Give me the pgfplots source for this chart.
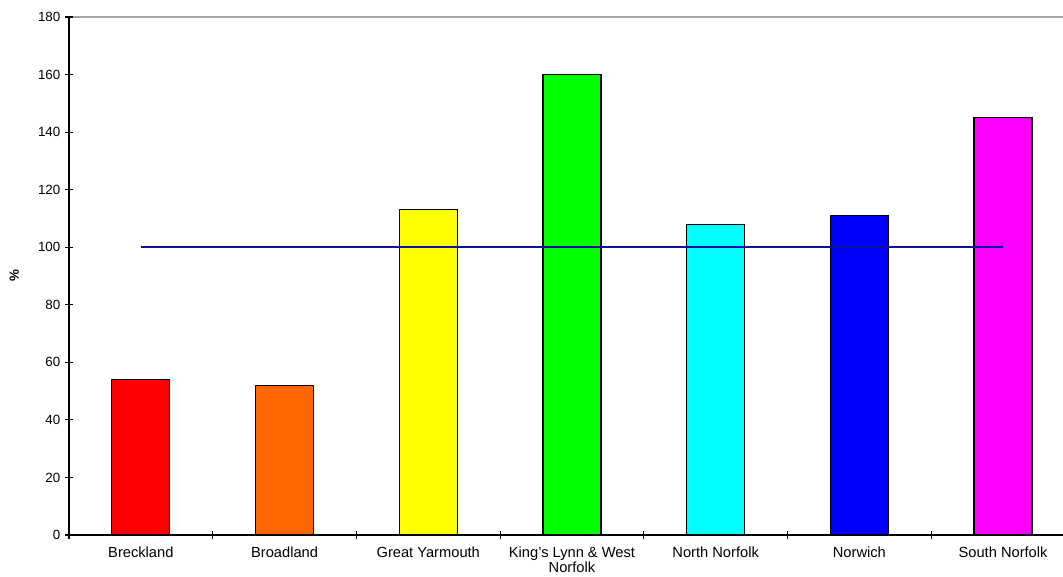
\documentclass[border=0pt]{standalone}
\usepackage{pgfplots}
\pgfplotsset{compat=1.18}
\usepackage{fontspec}
\setmainfont{Liberation Sans}
\definecolor{c1}{HTML}{FF0000}
\definecolor{c2}{HTML}{FF6600}
\definecolor{c3}{HTML}{FFFF00}
\definecolor{c4}{HTML}{00FF00}
\definecolor{c5}{HTML}{00FFFF}
\definecolor{c6}{HTML}{0000FF}
\definecolor{c7}{HTML}{FF00FF}
\definecolor{refline}{HTML}{1010A0}
\begin{document}
\begin{tikzpicture}[x=1pt,y=1pt]
\useasboundingbox (-51.75pt,-31.5pt) rectangle (745.5pt,401.25pt);
\begin{axis}[
  name=ax,
  at={(0pt,0pt)}, anchor=south west,
  scale only axis,
  width=745.5pt, height=388.5pt,
  xmin=-0.5, xmax=6.417,
  ymin=0, ymax=180,
  axis lines*=left,
  axis line style={-, black, line width=0.9pt},
  ytick={0,20,...,180},
  xtick={0,...,6},
  xticklabels={Breckland,Broadland,Great Yarmouth,{King’s Lynn \& West\\Norfolk},North Norfolk,Norwich,South Norfolk},
  minor xtick={-0.5,0.5,...,5.5},
  x tick style={draw=none},
  minor x tick style={draw=black, line width=0.8pt},
  y tick style={black, line width=0.8pt},
  major tick length=6pt,
  minor tick length=6pt,
  tick align=center,
  xticklabel style={font=\fontsize{11}{11.5}\selectfont, align=center, anchor=north, yshift=-2pt},
  yticklabel style={font=\fontsize{10}{11}\selectfont},
  /pgf/number format/assume math mode=true,
  ylabel={\textbf{\%}},
  ylabel style={font=\fontsize{10}{11}\selectfont, yshift=1.5pt},
  extra y ticks={180},
  extra y tick labels={},
  extra y tick style={grid=major, major grid style={gray!70, line width=1pt}},
  clip=false,
]
\addplot[ybar, bar width=43.5pt, draw=black, line width=0.9pt, fill=c1] coordinates {(0,54)};
\addplot[ybar, bar width=43.5pt, draw=black, line width=0.9pt, fill=c2] coordinates {(1,52)};
\addplot[ybar, bar width=43.5pt, draw=black, line width=0.9pt, fill=c3] coordinates {(2,113)};
\addplot[ybar, bar width=43.5pt, draw=black, line width=0.9pt, fill=c4] coordinates {(3,160)};
\addplot[ybar, bar width=43.5pt, draw=black, line width=0.9pt, fill=c5] coordinates {(4,108)};
\addplot[ybar, bar width=43.5pt, draw=black, line width=0.9pt, fill=c6] coordinates {(5,111)};
\addplot[ybar, bar width=43.5pt, draw=black, line width=0.9pt, fill=c7] coordinates {(6,145)};
\addplot[draw=refline, color=refline, line width=1.2pt, mark=none] coordinates {(0,100) (1,100) (2,100) (3,100) (4,100) (5,100) (6,100)};
\end{axis}
\end{tikzpicture}
\end{document}
